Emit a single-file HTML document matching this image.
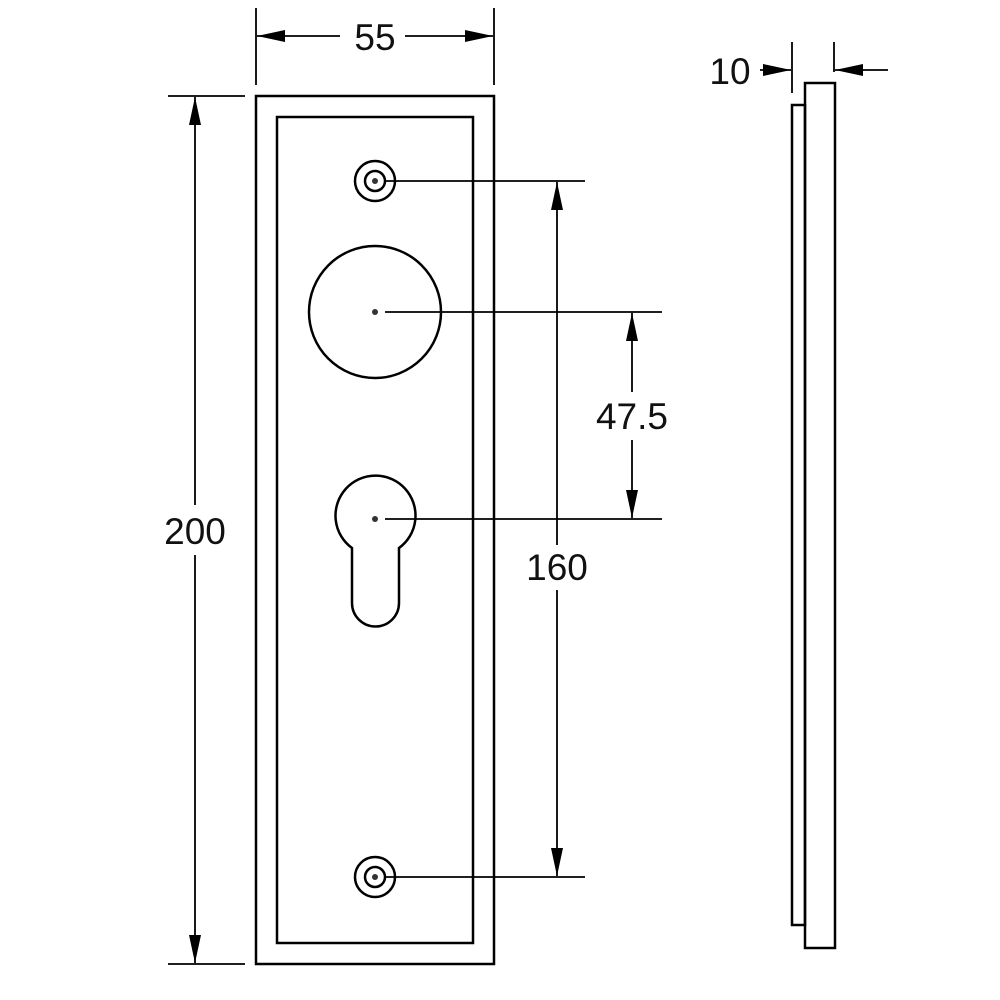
<!DOCTYPE html>
<html><head><style>body{margin:0;background:#fff}svg{display:block}text{font-family:"Liberation Sans",sans-serif;font-size:37px;fill:#111}</style></head><body>
<svg width="1000" height="1000" viewBox="0 0 1000 1000" xmlns="http://www.w3.org/2000/svg">
<defs><marker id="a" viewBox="0 0 28 12" refX="28" refY="6" markerWidth="28" markerHeight="12" markerUnits="userSpaceOnUse" orient="auto"><path d="M0,0L28,6L0,12z" fill="#000"/></marker></defs>
<g fill="none" stroke="#000" stroke-width="2.5">
<rect x="256" y="96" width="238" height="868"/>
<rect x="277" y="117" width="196" height="826"/>
<circle cx="375" cy="181" r="20"/><circle cx="375" cy="181" r="10"/>
<circle cx="375" cy="877" r="20"/><circle cx="375" cy="877" r="10"/>
<circle cx="375" cy="312" r="66"/>
<path d="M352,548 A40,40 0 1 1 399,548 L399,603 A23.5,23.5 0 0 1 352,603 Z"/>
<rect x="805" y="83" width="30" height="865"/>
<rect x="792" y="105" width="13" height="820"/>
</g>
<g fill="#333"><circle cx="375" cy="181" r="3"/><circle cx="375" cy="877" r="3"/><circle cx="375" cy="312" r="3"/><circle cx="375" cy="519" r="3"/></g>
<g stroke="#000" stroke-width="1.8" fill="none">
<line x1="256" y1="8" x2="256" y2="85"/><line x1="494" y1="8" x2="494" y2="85"/>
<line x1="340" y1="36" x2="257" y2="36" marker-end="url(#a)"/><line x1="405" y1="36" x2="493" y2="36" marker-end="url(#a)"/>
<line x1="168" y1="96" x2="245" y2="96"/><line x1="168" y1="964" x2="245" y2="964"/>
<line x1="195" y1="505" x2="195" y2="97" marker-end="url(#a)"/><line x1="195" y1="555" x2="195" y2="963" marker-end="url(#a)"/>
<line x1="385" y1="181" x2="585" y2="181"/><line x1="385" y1="877" x2="585" y2="877"/>
<line x1="557" y1="545" x2="557" y2="182" marker-end="url(#a)"/><line x1="557" y1="590" x2="557" y2="876" marker-end="url(#a)"/>
<line x1="385" y1="312" x2="662" y2="312"/><line x1="385" y1="519" x2="662" y2="519"/>
<line x1="632" y1="392" x2="632" y2="313" marker-end="url(#a)"/><line x1="632" y1="440" x2="632" y2="518" marker-end="url(#a)"/>
<line x1="792" y1="42" x2="792" y2="93"/><line x1="834" y1="42" x2="834" y2="72"/>
<line x1="760" y1="70" x2="791" y2="70" marker-end="url(#a)"/><line x1="888" y1="70" x2="835" y2="70" marker-end="url(#a)"/>
</g>
<text x="375" y="50" text-anchor="middle">55</text>
<text x="195" y="544" text-anchor="middle">200</text>
<text x="557" y="580" text-anchor="middle">160</text>
<text x="632" y="429" text-anchor="middle">47.5</text>
<text x="730" y="84" text-anchor="middle">10</text>
</svg>
</body></html>
